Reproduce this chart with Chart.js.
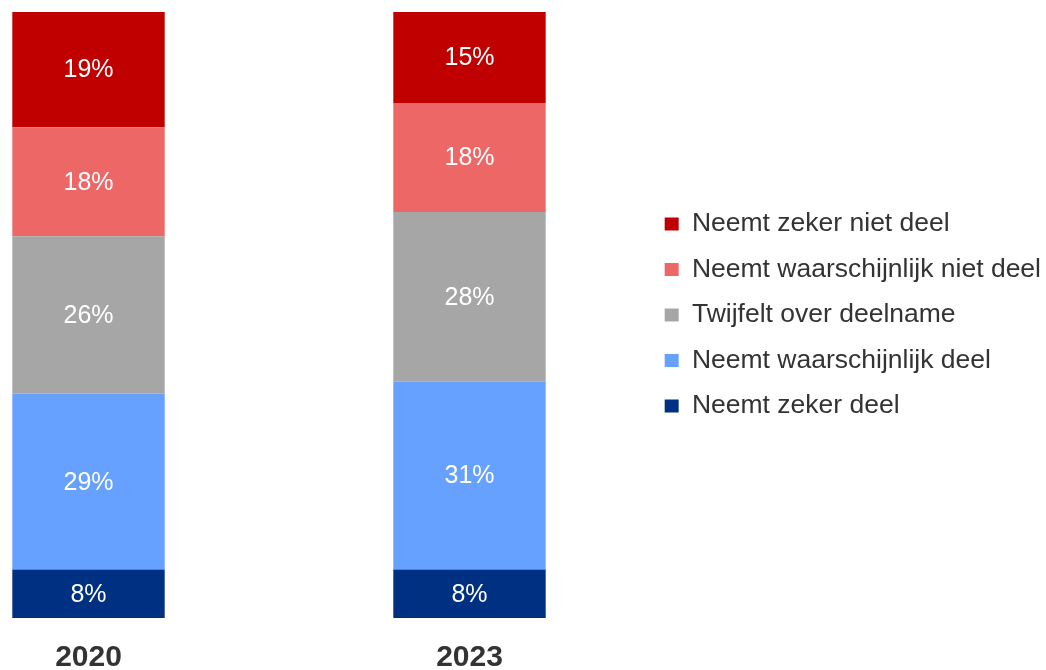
<!DOCTYPE html>
<html>
<head>
<meta charset="utf-8">
<script src="https://cdn.jsdelivr.net/npm/chart.js@4"></script>
<style>
  html, body { margin: 0; padding: 0; background: #fff; }
  #wrap { width: 1046px; height: 670px; }
</style>
</head>
<body>
<div id="wrap"><canvas id="chart" width="1046" height="670"></canvas></div>
<script>
    // Data
    const years = [2020, 2023];
    const zekerDeel = [8, 8];
    const waarschijnlijkDeel = [29, 31];
    const twijfelt = [26, 28];
    const waarschijnlijkNiet = [18, 18];
    const zekerNiet = [19, 15];

    const pxPerYear = 127;   // bars 381px apart
    const firstCenter = 88.5;

    const toPoints = arr => arr.map((v, i) => ({ x: years[i], y: v }));

    // Percent labels inside the segments
    const segmentLabels = {
      id: 'segmentLabels',
      afterDatasetsDraw(chart) {
        const ctx = chart.ctx;
        ctx.save();
        ctx.fillStyle = '#fff';
        ctx.font = '25px "Liberation Sans", Arial, sans-serif';
        ctx.textAlign = 'center';
        ctx.textBaseline = 'middle';
        chart.data.datasets.forEach((ds, di) => {
          chart.getDatasetMeta(di).data.forEach((bar, i) => {
            const y = (bar.y + bar.base) / 2;
            ctx.fillText(ds.data[i].y + '%', bar.x, y + 1);
          });
        });
        ctx.restore();
      }
    };

    const ds = (label, data, color) => ({
      label: label,
      data: toPoints(data),
      backgroundColor: color,
      borderWidth: 0,
      categoryPercentage: 1,
      barPercentage: 0.4
    });

    new Chart(document.getElementById('chart'), {
      type: 'bar',
      data: {
        datasets: [
          ds('Neemt zeker deel', zekerDeel, '#003082'),
          ds('Neemt waarschijnlijk deel', waarschijnlijkDeel, '#66A1FF'),
          ds('Twijfelt over deelname', twijfelt, '#A6A6A6'),
          ds('Neemt waarschijnlijk niet deel', waarschijnlijkNiet, '#EE6767'),
          ds('Neemt zeker niet deel', zekerNiet, '#C00000')
        ]
      },
      options: {
        responsive: false,
        animation: false,
        layout: { padding: { top: 12, left: 0, right: -5, bottom: 0 } },
        plugins: {
          legend: {
            position: 'right',
            fullSize: false,
            reverse: true,
            labels: {
              boxWidth: 14,
              boxHeight: 13,
              padding: 19,
              color: '#333',
              font: { size: 26.5, family: '"Liberation Sans", Arial, sans-serif' }
            }
          },
          tooltip: { enabled: false }
        },
        scales: {
          x: {
            type: 'linear',
            stacked: true,
            offset: false,
            bounds: 'data',
            grid: { display: false },
            border: { display: false },
            afterDataLimits(scale) {
              scale.min = years[0] - firstCenter / pxPerYear;
              scale.max = scale.min + scale.width / pxPerYear;
            },
            afterBuildTicks(scale) {
              scale.ticks = years.map(v => ({ value: v }));
            },
            afterFit(scale) { scale.height = 52; },
            ticks: {
              padding: 14,
              color: '#333',
              font: { size: 30, weight: 'bold', family: '"Liberation Sans", Arial, sans-serif' },
              callback: v => String(v)
            }
          },
          y: {
            stacked: true,
            min: 0,
            max: 100,
            display: false
          }
        }
      },
      plugins: [segmentLabels]
    });
</script>
</body>
</html>
